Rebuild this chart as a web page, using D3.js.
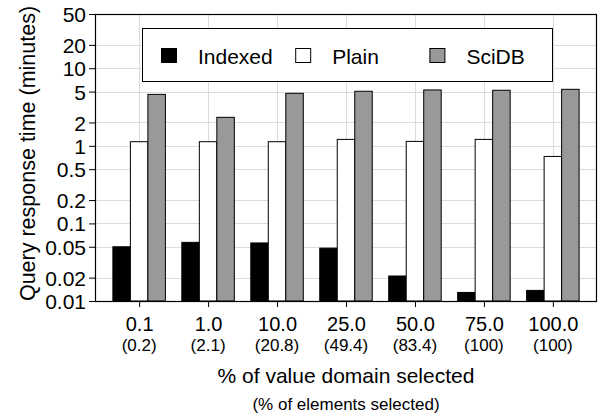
<!DOCTYPE html>
<html>
<head>
<meta charset="utf-8">
<script src="https://cdn.jsdelivr.net/npm/d3@7"></script>
<style>
  body { margin: 0; background: #fff; }
  svg { display: block; font-family: "Liberation Sans", Arial, sans-serif; }
</style>
</head>
<body>
<div id="chart"></div>
<script>
// chart data
const categories = ['0.1', '1.0', '10.0', '25.0', '50.0', '75.0', '100.0'];
const subLabels = ['(0.2)', '(2.1)', '(20.8)', '(49.4)', '(83.4)', '(100)', '(100)'];
const seriesNames = ['Indexed', 'Plain', 'SciDB'];
const indexed = [0.050, 0.057, 0.056, 0.048, 0.021, 0.0129, 0.0137];
const plain = [1.13, 1.13, 1.13, 1.21, 1.14, 1.21, 0.73];
const scidb = [4.6, 2.33, 4.75, 5.05, 5.25, 5.2, 5.35];
const yTicks = [0.01, 0.02, 0.05, 0.1, 0.2, 0.5, 1, 2, 5, 10, 20, 50];

const WIDTH = 602;
const HEIGHT = 414;
const margin = { top: 14, right: 5, bottom: 113, left: 95 };
const innerW = WIDTH - margin.left - margin.right;
const innerH = HEIGHT - margin.top - margin.bottom;
const fills = ['#000000', '#ffffff', '#999999'];
const GRID = '#dcdcdc';
const FONT = '"Liberation Sans", Arial, sans-serif';

const svg = d3.select('#chart')
  .append('svg')
  .attr('width', WIDTH)
  .attr('height', HEIGHT);

const g = svg.append('g')
  .attr('transform', `translate(${margin.left},${margin.top})`);

const x = d3.scalePoint()
  .domain(categories)
  .range([0, innerW])
  .padding(0.64);

const xSeries = d3.scaleBand()
  .domain(seriesNames)
  .range([-26.25, 26.25]);

const y = d3.scaleLog()
  .domain([0.01, 50])
  .range([innerH, 0]);

// grid
g.append('g')
  .selectAll('line')
  .data(yTicks)
  .join('line')
  .attr('x1', 0)
  .attr('x2', innerW)
  .attr('y1', d => Math.round(y(d)) + 0.5)
  .attr('y2', d => Math.round(y(d)) + 0.5)
  .attr('stroke', GRID)
  .attr('stroke-width', 1);

g.append('g')
  .selectAll('line')
  .data(categories)
  .join('line')
  .attr('x1', d => Math.round(x(d)) + 0.5)
  .attr('x2', d => Math.round(x(d)) + 0.5)
  .attr('y1', 0)
  .attr('y2', innerH)
  .attr('stroke', GRID)
  .attr('stroke-width', 1);

// legend box (over the grid)
const legend = g.append('g').attr('transform', 'translate(47,14)');
legend.append('rect')
  .attr('x', 0.5)
  .attr('y', 0.5)
  .attr('width', 410)
  .attr('height', 53)
  .attr('fill', '#fff')
  .attr('stroke', '#000')
  .attr('stroke-width', 1);

seriesNames.forEach((name, i) => {
  const item = legend.append('g').attr('transform', `translate(${19 + i * 134.2},0)`);
  item.append('rect')
    .attr('x', 0.5)
    .attr('y', 20.5)
    .attr('width', 15)
    .attr('height', 14)
    .attr('fill', fills[i])
    .attr('stroke', '#000')
    .attr('stroke-width', 1);
  item.append('text')
    .attr('x', 37)
    .attr('y', 35.5)
    .style('font-size', '21px')
    .text(name);
});

// bars
const seriesData = [indexed, plain, scidb];
seriesData.forEach((vals, s) => {
  g.append('g')
    .selectAll('rect')
    .data(vals)
    .join('rect')
    .attr('x', (d, i) => x(categories[i]) + xSeries(seriesNames[s]))
    .attr('width', xSeries.bandwidth())
    .attr('y', d => y(d))
    .attr('height', d => innerH - y(d))
    .attr('fill', fills[s])
    .attr('stroke', '#000')
    .attr('stroke-width', 1);
});

// frame
g.append('rect')
  .attr('x', 0.5)
  .attr('y', 0.5)
  .attr('width', innerW - 1)
  .attr('height', innerH)
  .attr('fill', 'none')
  .attr('stroke', '#000')
  .attr('stroke-width', 1.2);

// y axis
const yAxis = g.append('g')
  .call(d3.axisLeft(y).tickValues(yTicks).tickFormat(d3.format('~g')).tickSize(6).tickPadding(3));
yAxis.select('.domain').remove();
yAxis.selectAll('.tick line').attr('stroke', '#000');
yAxis.selectAll('.tick text')
  .style('font-size', '21px')
  .style('font-family', FONT)
  .attr('fill', '#000')
  .attr('dy', '0.36em');

// x axis
const xAxis = g.append('g')
  .attr('transform', `translate(0,${innerH})`)
  .call(d3.axisBottom(x).tickSize(6).tickPadding(10));
xAxis.select('.domain').remove();
xAxis.selectAll('.tick line').attr('stroke', '#000');
xAxis.selectAll('.tick text')
  .style('font-size', '20px')
  .style('font-family', FONT)
  .attr('fill', '#000');

// sub labels under x ticks
g.append('g')
  .selectAll('text')
  .data(subLabels)
  .join('text')
  .attr('x', (d, i) => x(categories[i]))
  .attr('y', innerH + 50)
  .attr('text-anchor', 'middle')
  .style('font-size', '17px')
  .text(d => d);

// axis titles
g.append('text')
  .attr('x', innerW / 2)
  .attr('y', innerH + 82)
  .attr('text-anchor', 'middle')
  .style('font-size', '21px')
  .text('% of value domain selected');

g.append('text')
  .attr('x', innerW / 2)
  .attr('y', innerH + 109)
  .attr('text-anchor', 'middle')
  .style('font-size', '17px')
  .text('(% of elements selected)');

svg.append('text')
  .attr('transform', `translate(35,${margin.top + innerH / 2 - 4}) rotate(-90)`)
  .attr('text-anchor', 'middle')
  .style('font-size', '21.5px')
  .text('Query response time (minutes)');
</script>
</body>
</html>
